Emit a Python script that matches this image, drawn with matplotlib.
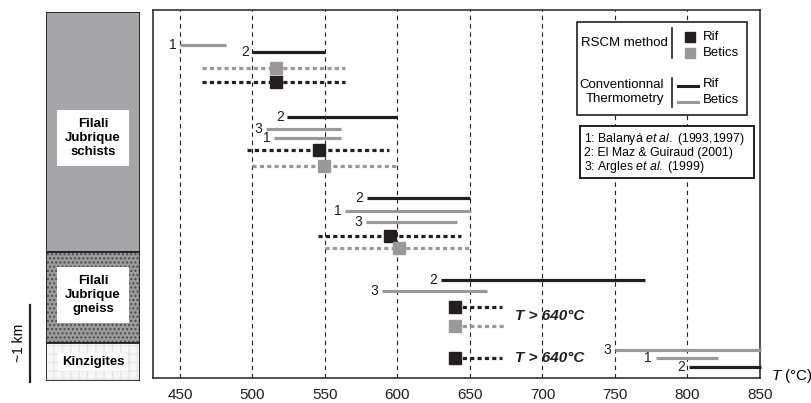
import numpy as np
import matplotlib
matplotlib.use('Agg')
import matplotlib.pyplot as plt
from matplotlib.patches import Rectangle
from matplotlib.lines import Line2D

plt.rcParams['font.family'] = ['Liberation Sans', 'DejaVu Sans']
plt.rcParams['mathtext.fontset'] = 'custom'
plt.rcParams['mathtext.rm'] = 'Liberation Sans'
plt.rcParams['mathtext.it'] = 'Liberation Sans:italic'
plt.rcParams['mathtext.bf'] = 'Liberation Sans:bold'

BLACK = '#231f20'
GREY = '#999999'
col = {'Rif': BLACK, 'Betics': GREY}

# conventional thermometry ranges (row position, Tmin, Tmax, region, reference)
conv_y = [45, 52, 117, 129, 138, 198, 211, 222, 280, 291, 350, 358, 367]
conv_lo = [450, 500, 524, 509, 515, 579, 564, 578, 630, 589, 750, 778, 801]
conv_hi = [482, 550, 600, 561, 561, 650, 651, 641, 771, 662, 851, 821, 851]
conv_region = ['Betics', 'Rif', 'Rif', 'Betics', 'Betics', 'Rif', 'Betics', 'Betics',
               'Rif', 'Betics', 'Betics', 'Betics', 'Rif']
conv_ref = ['1', '2', '2', '3', '1', '2', '1', '3', '2', '3', '3', '1', '2']

# RSCM temperatures (row position, range, mean, region)
rscm_y = [68, 82, 150, 166, 236, 248, 307, 326, 358]
rscm_lo = [465, 465, 496, 500, 545, 550, 640, 640, 640]
rscm_hi = [564, 564, 594, 599, 644, 650, 672, 675, 672]
rscm_T = [516, 516, 546, 549, 595, 601, 640, 640, 640]
rscm_region = ['Betics', 'Rif', 'Rif', 'Betics', 'Rif', 'Betics', 'Rif', 'Betics', 'Rif']

min_label_y = [316, 358]
min_label_T = 681

xticks = [450, 500, 550, 600, 650, 700, 750, 800, 850]

W, H = 812, 403
def fx(p):
    return p / W
def fy(p):
    return 1 - p / H

fig = plt.figure(figsize=(W / 100, H / 100), dpi=100)

# ---------------- main panel ----------------
ax = fig.add_axes([fx(153), fy(378), fx(760) - fx(153), fy(10) - fy(378)])
ax.set_xlim(431.4, 850)
ax.set_ylim(378, 10)
for x in xticks[:-1]:
    ax.axvline(x, color=BLACK, lw=0.8, ls=(0, (4, 3.5)), zorder=1)

for y, lo, hi, reg, ref in zip(conv_y, conv_lo, conv_hi, conv_region, conv_ref):
    ax.plot([lo, hi], [y, y], color=col[reg], lw=2.3, solid_capstyle='butt',
            clip_on=False, zorder=3)
    ax.annotate(ref, (lo, y), xytext=(-2.5, 0), textcoords='offset points',
                ha='right', va='center', fontsize=10, color=BLACK)

for y, lo, hi, t, reg in zip(rscm_y, rscm_lo, rscm_hi, rscm_T, rscm_region):
    ax.plot([lo, hi], [y, y], color=col[reg], lw=2.3, ls=(0, (1.3, 1.0)), zorder=3)
    ax.plot(t, y, marker='s', ms=8.6, color=col[reg], mec=col[reg], zorder=4)

for y in min_label_y:
    ax.text(min_label_T, y, 'T > 640°C', fontsize=11, fontweight='bold',
            fontstyle='italic', ha='left', va='center', color=BLACK)

ax.set_xticks(xticks)
ax.set_yticks([])
ax.tick_params(axis='x', length=0, pad=7, labelsize=11, colors=BLACK)
for s in ax.spines.values():
    s.set_linewidth(1.1)
    s.set_color(BLACK)

fig.text(fx(771), fy(376), r'$\mathit{T}$ (°C)', fontsize=11, ha='left', va='center')

# ---------------- legends ----------------
fig.patches.append(Rectangle((fx(577), fy(115)), fx(747) - fx(577), fy(22) - fy(115),
                             transform=fig.transFigure, fill=True, fc='white',
                             ec=BLACK, lw=1.2, zorder=5))
fig.text(fx(668), fy(43), 'RSCM method', ha='right', va='center', fontsize=9.5, zorder=6)
fig.lines.append(Line2D([fx(672), fx(672)], [fy(28), fy(58)], color=BLACK, lw=1.2,
                        transform=fig.transFigure, zorder=6))
fig.lines.append(Line2D([fx(690)], [fy(37)], marker='s', ms=7, color=BLACK,
                        transform=fig.transFigure, zorder=6))
fig.lines.append(Line2D([fx(690)], [fy(53)], marker='s', ms=7, color=GREY,
                        transform=fig.transFigure, zorder=6))
fig.text(fx(703), fy(37), 'Rif', ha='left', va='center', fontsize=9.5, zorder=6)
fig.text(fx(703), fy(53), 'Betics', ha='left', va='center', fontsize=9.5, zorder=6)
fig.text(fx(664), fy(92), 'Conventionnal\nThermometry', ha='right', va='center',
         fontsize=9.5, linespacing=1.25, zorder=6)
fig.lines.append(Line2D([fx(672), fx(672)], [fy(78), fy(107)], color=BLACK, lw=1.2,
                        transform=fig.transFigure, zorder=6))
fig.lines.append(Line2D([fx(678), fx(698)], [fy(86), fy(86)], color=BLACK, lw=2.2,
                        transform=fig.transFigure, zorder=6))
fig.lines.append(Line2D([fx(678), fx(698)], [fy(102), fy(102)], color=GREY, lw=2.2,
                        transform=fig.transFigure, zorder=6))
fig.text(fx(703), fy(84), 'Rif', ha='left', va='center', fontsize=9.5, zorder=6)
fig.text(fx(703), fy(100), 'Betics', ha='left', va='center', fontsize=9.5, zorder=6)

fig.patches.append(Rectangle((fx(580), fy(178)), fx(754) - fx(580), fy(126) - fy(178),
                             transform=fig.transFigure, fill=True, fc='white',
                             ec=BLACK, lw=1.4, zorder=5))
refs = [r'1: Balanyá $\mathit{et\ al.}$ (1993,1997)',
        '2: El Maz & Guiraud (2001)',
        r'3: Argles $\mathit{et\ al.}$ (1999)']
for i, r in enumerate(refs):
    fig.text(fx(584), fy(139 + 14 * i), r, ha='left', va='center', fontsize=8.8, zorder=6)

# ---------------- lithological column ----------------
cax = fig.add_axes([fx(46), fy(381), fx(140) - fx(46), fy(12) - fy(381)])
cax.set_xlim(0, 1)
cax.set_ylim(0, 369)
cax.axis('off')
cax.add_patch(Rectangle((0, 129), 1, 240, fc='#a6a6a9', ec=BLACK, lw=1.3))
cax.add_patch(Rectangle((0, 38), 1, 91, fc='#9c9c9c', ec='#4a4a4a', lw=0, hatch='....'))
cax.add_patch(Rectangle((0, 38), 1, 91, fill=False, ec=BLACK, lw=1.3))
cax.add_patch(Rectangle((0, 0), 1, 38, fc='#f7f7f7', ec='#e4e4e4', lw=0, hatch='++'))
cax.add_patch(Rectangle((0, 0), 1, 38, fill=False, ec=BLACK, lw=1.3))
cax.text(0.5, 243, 'Filali\nJubrique\nschists', ha='center', va='center', fontsize=9.5,
         fontweight='bold', linespacing=1.2, bbox=dict(fc='white', ec='none', pad=6))
cax.text(0.5, 86, 'Filali\nJubrique\ngneiss', ha='center', va='center', fontsize=9.5,
         fontweight='bold', linespacing=1.2, bbox=dict(fc='white', ec='none', pad=6))
cax.text(0.5, 19, 'Kinzigites', ha='center', va='center', fontsize=9.5,
         fontweight='bold', bbox=dict(fc='white', ec='none', pad=2.5))

# scale bar
fig.lines.append(Line2D([fx(30), fx(30)], [fy(305), fy(382)], color=BLACK, lw=1.6,
                        transform=fig.transFigure))
fig.text(fx(19), fy(343), '~1 km', rotation=90, ha='center', va='center', fontsize=10)

fig.savefig('out.png', dpi=100)
